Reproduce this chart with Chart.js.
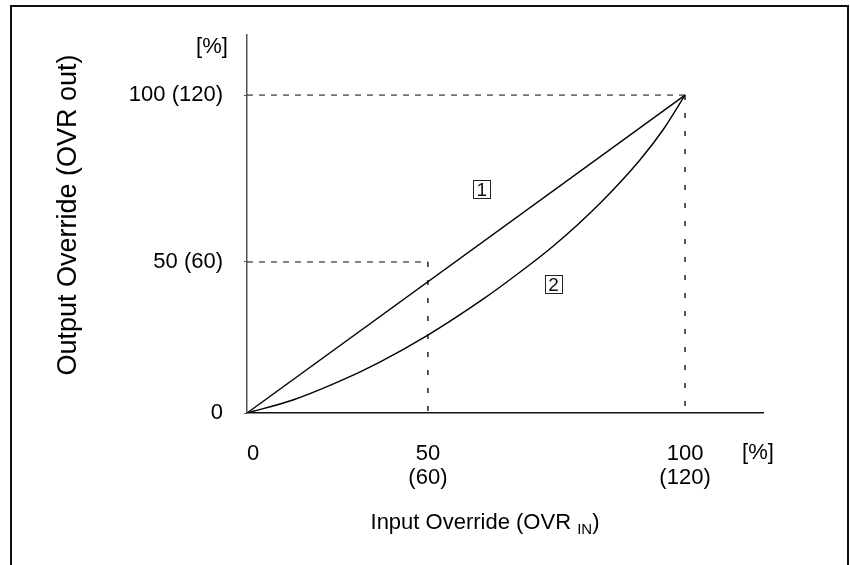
<!DOCTYPE html>
<html>
<head>
<meta charset="utf-8">
<script src="https://cdn.jsdelivr.net/npm/chart.js@4/dist/chart.umd.min.js"></script>
<style>
html,body{margin:0;padding:0;background:#fff;overflow:hidden;}
#wrap{position:relative;width:850px;height:565px;overflow:hidden;}
#frame{position:absolute;left:10px;top:5px;width:839px;height:620px;border:2px solid #111;border-bottom:none;box-sizing:border-box;}
#c{position:absolute;left:0;top:0;}
</style>
</head>
<body>
<div id="wrap">
  <div id="frame"></div>
  <canvas id="c" width="850" height="565"></canvas>
</div>
<script>
// ---- data ----
const line1X = [0, 100];
const line1Y = [0, 100];
const curve2X = [0, 10.5, 20, 30, 41.3, 54.3, 60, 70, 80.6, 89.7, 95, 100];
const curve2Y = [0, 4.1, 9.3, 15.8, 24.5, 36.2, 41.9, 52.6, 66.0, 79.6, 89.1, 100];

const xTickValues = [0, 41.3, 100];
const xTickLabels = [["  0"], ["50", "(60)"], ["100", "(120)"]];
const yTickValues = [0, 47.5, 100];
const yTickLabels = ["0", "50 (60)", "100 (120)"];

const guideH100X = [0, 100], guideH100Y = [100, 100];
const guideV100X = [100, 100], guideV100Y = [100, 0];
const guideH50X = [0, 41.3], guideH50Y = [47.5, 47.5];
const guideV50X = [41.3, 41.3], guideV50Y = [47.5, 0];

const markerX = [53.6, 70.0];
const markerY = [70.2, 40.3];
const markerText = ["1", "2"];

const yTitle = 'Output Override (OVR out)';
const xTitleMain = 'Input Override (OVR ';
const xTitleSub = 'IN';
const unitText = '[%]';

const xMax = 117.8, yMax = 118.9;
const FONT = "'Liberation Sans', Arial, sans-serif";

function pts(xs, ys) { return xs.map((x, i) => ({x: x, y: ys[i]})); }

const overlay = {
  id: 'overlay',
  afterDatasetsDraw(chart) {
    const ctx = chart.ctx;
    const xs = chart.scales.x, ys = chart.scales.y;
    ctx.save();
    // boxed markers
    ctx.font = "19px " + FONT;
    ctx.textAlign = 'center';
    ctx.textBaseline = 'middle';
    markerText.forEach((t, i) => {
      const px = xs.getPixelForValue(markerX[i]);
      const py = ys.getPixelForValue(markerY[i]);
      ctx.strokeStyle = '#222';
      ctx.lineWidth = 1;
      ctx.strokeRect(Math.round(px - 9) + 0.5, Math.round(py - 9.5) + 0.5, 17, 18);
      ctx.fillStyle = '#111';
      ctx.fillText(t, px, py + 1);
    });
    // units
    ctx.font = "22px " + FONT;
    ctx.fillStyle = '#000';
    ctx.textAlign = 'center';
    ctx.fillText(unitText, xs.right - 5, 453);
    ctx.fillText(unitText, 212, 47);
    // y title (rotated)
    ctx.save();
    ctx.translate(69, 215);
    ctx.rotate(-Math.PI / 2);
    ctx.font = "27px " + FONT;
    ctx.textAlign = 'center';
    ctx.fillText(yTitle, 0, 0);
    ctx.restore();
    // x title with subscript
    const end = ')';
    ctx.font = "22px " + FONT;
    const w1 = ctx.measureText(xTitleMain).width;
    const w3 = ctx.measureText(end).width;
    ctx.font = "15px " + FONT;
    const w2 = ctx.measureText(xTitleSub).width;
    const total = w1 + w2 + w3;
    let x0 = 485 - total / 2;
    const yT = 523;
    ctx.textAlign = 'left';
    ctx.font = "22px " + FONT;
    ctx.fillText(xTitleMain, x0, yT);
    ctx.font = "15px " + FONT;
    ctx.fillText(xTitleSub, x0 + w1, yT + 7);
    ctx.font = "22px " + FONT;
    ctx.fillText(end, x0 + w1 + w2, yT);
    ctx.restore();
  }
};

const solid = {borderColor: '#000', borderWidth: 1.4, pointRadius: 0, showLine: true, fill: false};

new Chart(document.getElementById('c'), {
  type: 'scatter',
  data: {
    datasets: [
      Object.assign({label: '1', data: pts(line1X, line1Y)}, solid),
      Object.assign({label: '2', data: pts(curve2X, curve2Y), cubicInterpolationMode: 'monotone'}, solid),
      {label: 'g1', data: pts(guideH100X, guideH100Y), borderColor: '#333', borderWidth: 1.2, borderDash: [6, 6], pointRadius: 0, showLine: true},
      {label: 'g2', data: pts(guideV100X, guideV100Y), borderColor: '#111', borderWidth: 1.4, borderDash: [5, 13], pointRadius: 0, showLine: true},
      {label: 'g3', data: pts(guideH50X, guideH50Y), borderColor: '#333', borderWidth: 1.2, borderDash: [6, 6], pointRadius: 0, showLine: true},
      {label: 'g4', data: pts(guideV50X, guideV50Y), borderColor: '#111', borderWidth: 1.4, borderDash: [5, 13], pointRadius: 0, showLine: true}
    ]
  },
  options: {
    responsive: false,
    animation: false,
    events: [],
    layout: {padding: {left: 0, top: 35, right: 87, bottom: 0}},
    plugins: {legend: {display: false}, tooltip: {enabled: false}},
    scales: {
      x: {
        type: 'linear', min: 0, max: xMax,
        afterFit: s => { s.height = 152; },
        afterBuildTicks: s => { s.ticks = xTickValues.map(v => ({value: v})); },
        grid: {display: false, drawTicks: false},
        border: {display: true, color: '#111', width: 1.5},
        ticks: {
          autoSkip: false, maxRotation: 0, padding: 29, color: '#000',
          font: {family: FONT, size: 22, lineHeight: 1.1},
          callback: (v, i) => xTickLabels[i]
        }
      },
      y: {
        type: 'linear', min: 0, max: yMax,
        afterFit: s => { s.width = 247; },
        afterBuildTicks: s => { s.ticks = yTickValues.map(v => ({value: v})); },
        grid: {display: true, drawOnChartArea: false, drawTicks: true, tickLength: 3, color: '#555'},
        border: {display: true, color: '#555', width: 1.5},
        ticks: {
          autoSkip: false, padding: 21, color: '#000',
          font: {family: FONT, size: 22},
          callback: (v, i) => yTickLabels[i]
        }
      }
    }
  },
  plugins: [overlay]
});
</script>
</body>
</html>
